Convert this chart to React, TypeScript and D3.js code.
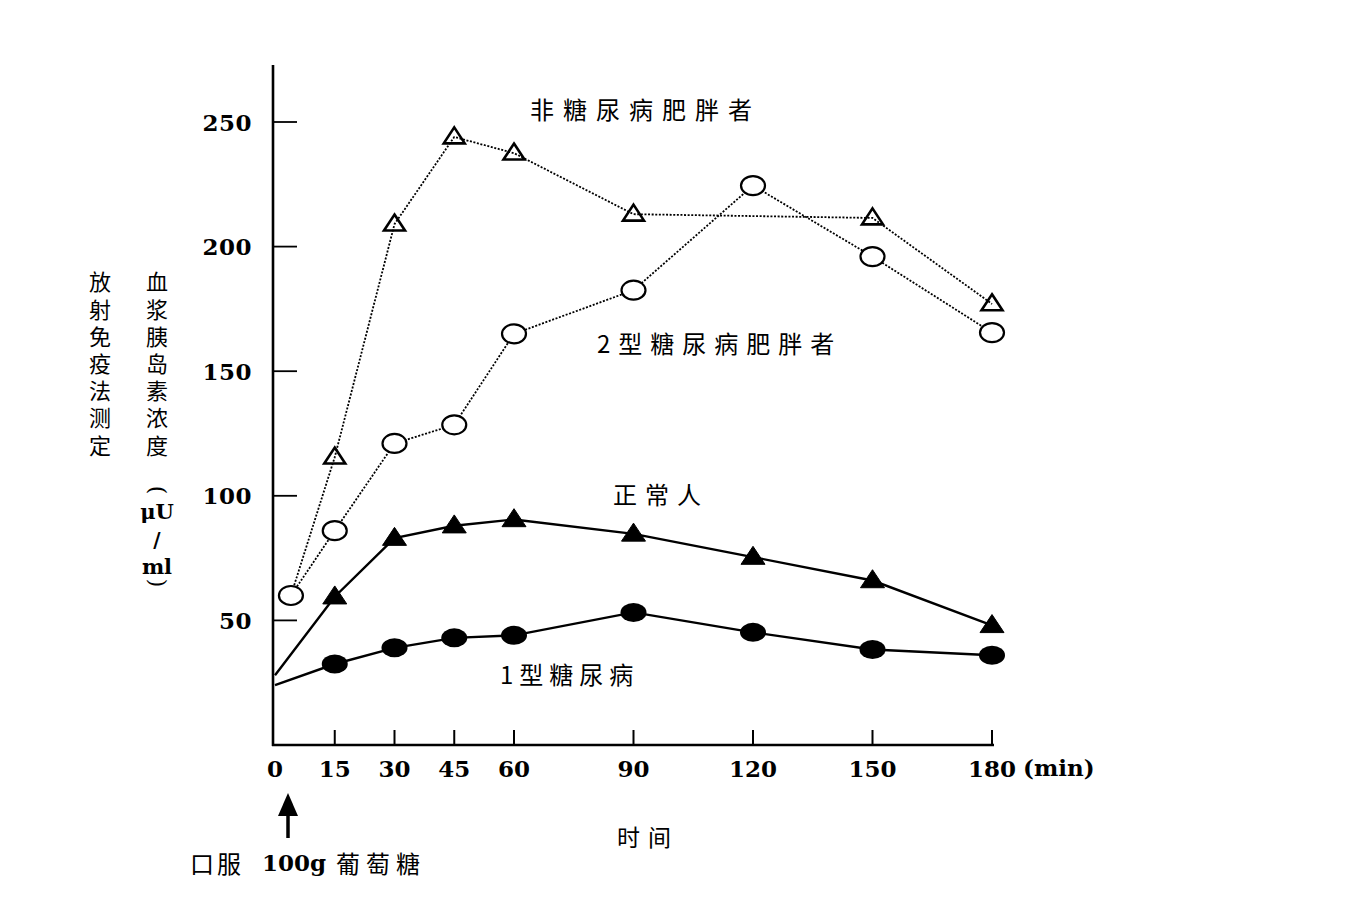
import React from "react";
import * as d3 from "d3";

const times = [0, 15, 30, 45, 60, 90, 120, 150, 180];
const xTickTimes = [15, 30, 45, 60, 90, 120, 150, 180];
const xTickLabels = ["0", "15", "30", "45", "60", "90", "120", "150", "180"];
const yTicks = [50, 100, 150, 200, 250];

// 非糖尿病肥胖者 (open triangles, dotted)
const obeseTimes = [15, 30, 45, 60, 90, 150, 180];
const obeseValues = [115.5, 209, 244, 237.5, 213, 211.5, 177];
// 2型糖尿病肥胖者 (open circles, dotted)
const t2Times = [15, 30, 45, 60, 90, 120, 150, 180];
const t2Values = [86, 121, 128.5, 165, 182.5, 224.5, 196, 165.5];
// shared starting point of the two dotted series
const startTime = 4;
const startValue = 60;
// 正常人 (filled triangles)
const normalValues = [28, 59.5, 83, 88, 90.5, 84.7, 75.4, 66, 48];
// 1型糖尿病 (filled circles)
const t1Values = [24, 32.5, 39, 43, 44, 53.2, 45.2, 38.3, 36];

const yLabelCol1 = "放射免疫法测定";
const yLabelCol2 = "血浆胰岛素浓度";

const SERIF = "'DejaVu Serif', 'Liberation Serif', serif";
const CJK = "'Noto Sans CJK SC', sans-serif";

export default function App() {
  const x = d3.scaleLinear().domain([0, 180]).range([275, 992]);
  const y = d3.scaleLinear().domain([0, 250]).range([745, 122]);
  const line = d3
    .line<[number, number]>()
    .x((d) => x(d[0]))
    .y((d) => y(d[1]));

  const obesePts: [number, number][] = [
    [startTime, startValue],
    ...obeseTimes.map((t, i) => [t, obeseValues[i]] as [number, number]),
  ];
  const t2Pts: [number, number][] = [
    [startTime, startValue],
    ...t2Times.map((t, i) => [t, t2Values[i]] as [number, number]),
  ];
  const normalPts: [number, number][] = times.map((t, i) => [t, normalValues[i]]);
  const t1Pts: [number, number][] = times.map((t, i) => [t, t1Values[i]]);

  const tri = (cx: number, cy: number, w: number, h: number) =>
    `M${cx},${cy - h * 0.6} L${cx + w / 2},${cy + h * 0.4} L${cx - w / 2},${cy + h * 0.4} Z`;

  const axisX0 = 273;
  const axisY0 = y(0);

  return (
    <svg
      width={1361}
      height={897}
      style={{ display: "block", background: "#fff", position: "absolute", left: 0, top: 0 }}
    >
      <rect x={0} y={0} width={1361} height={897} fill="#fff" />
      {/* axes */}
      <line x1={axisX0} y1={65} x2={axisX0} y2={axisY0 + 1} stroke="#000" strokeWidth={2.6} />
      <line x1={axisX0 - 1} y1={axisY0} x2={x(180) + 2} y2={axisY0} stroke="#000" strokeWidth={2.4} />
      {xTickTimes.map((t) => (
        <line key={"xt" + t} x1={x(t)} y1={axisY0} x2={x(t)} y2={axisY0 - 15} stroke="#000" strokeWidth={2} />
      ))}
      {yTicks.map((v) => (
        <line key={"yt" + v} x1={axisX0} y1={y(v)} x2={axisX0 + 24} y2={y(v)} stroke="#000" strokeWidth={1.8} />
      ))}
      {/* tick labels */}
      {times.map((t, i) => (
        <text
          key={"xl" + t}
          x={x(t)}
          y={768}
          textAnchor="middle"
          dominantBaseline="central"
          fontFamily={SERIF}
          fontSize={23}
          fontWeight="bold"
        >
          {xTickLabels[i]}
        </text>
      ))}
      <text x={1023} y={767} dominantBaseline="central" fontFamily={SERIF} fontSize={23} fontWeight="bold">
        (min)
      </text>
      {yTicks.map((v) => (
        <text
          key={"yl" + v}
          x={252}
          y={y(v)}
          textAnchor="end"
          dominantBaseline="central"
          fontFamily={SERIF}
          fontSize={23}
          fontWeight="bold"
          letterSpacing={0.5}
        >
          {v}
        </text>
      ))}

      {/* dotted series */}
      <path d={line(obesePts) || ""} fill="none" stroke="#000" strokeWidth={1.8} strokeDasharray="2 1.6" />
      <path d={line(t2Pts) || ""} fill="none" stroke="#000" strokeWidth={1.8} strokeDasharray="2 1.6" />
      {/* solid series */}
      <path d={line(normalPts) || ""} fill="none" stroke="#000" strokeWidth={2.4} />
      <path d={line(t1Pts) || ""} fill="none" stroke="#000" strokeWidth={2.4} />

      {/* markers */}
      {obesePts.slice(1).map((p, i) => (
        <path key={"ot" + i} d={tri(x(p[0]), y(p[1]), 21, 16)} fill="none" stroke="#000" strokeWidth={2.6} strokeLinejoin="miter" />
      ))}
      {t2Pts.map((p, i) => (
        <ellipse key={"oc" + i} cx={x(p[0])} cy={y(p[1])} rx={12} ry={9.5} fill="#fff" stroke="#000" strokeWidth={2.2} />
      ))}
      {normalPts.slice(1).map((p, i) => (
        <path key={"ft" + i} d={tri(x(p[0]), y(p[1]), 24, 18)} fill="#000" stroke="#000" strokeWidth={1} />
      ))}
      {t1Pts.slice(1).map((p, i) => (
        <ellipse key={"fc" + i} cx={x(p[0])} cy={y(p[1])} rx={13} ry={9.5} fill="#000" />
      ))}

      {/* series labels */}
      <text x={530} y={108} dominantBaseline="central" fontFamily={CJK} fontSize={24} letterSpacing={9}>
        非糖尿病肥胖者
      </text>
      <text x={597} y={342} dominantBaseline="central" fontFamily={CJK} fontSize={24} letterSpacing={8}>
        2型糖尿病肥胖者
      </text>
      <text x={613} y={493} dominantBaseline="central" fontFamily={CJK} fontSize={24} letterSpacing={8}>
        正常人
      </text>
      <text x={500} y={673} dominantBaseline="central" fontFamily={CJK} fontSize={24} letterSpacing={6}>
        1型糖尿病
      </text>

      {/* x axis title */}
      <text x={617} y={836} dominantBaseline="central" fontFamily={CJK} fontSize={23} letterSpacing={8}>
        时间
      </text>
      {/* annotation */}
      <line x1={288} y1={838} x2={288} y2={812} stroke="#000" strokeWidth={3.5} />
      <path d="M278,816 L298,816 L288,793 Z" fill="#000" />
      <text x={190} y={862} dominantBaseline="central" fontFamily={CJK} fontSize={24} letterSpacing={3}>
        口服
      </text>
      <text x={262} y={862} dominantBaseline="central" fontFamily={SERIF} fontSize={23} fontWeight="bold">
        100g
      </text>
      <text x={336} y={862} dominantBaseline="central" fontFamily={CJK} fontSize={24} letterSpacing={6}>
        葡萄糖
      </text>

      {/* y axis title (vertical columns) */}
      <text
        x={100}
        y={271}
        fontFamily={CJK}
        fontSize={22}
        letterSpacing={5.2}
        style={{ writingMode: "vertical-rl", textOrientation: "upright" }}
      >
        {yLabelCol1}
      </text>
      <text
        x={157}
        y={271}
        fontFamily={CJK}
        fontSize={22}
        letterSpacing={5.2}
        style={{ writingMode: "vertical-rl", textOrientation: "upright" }}
      >
        {yLabelCol2}
      </text>
      <text x={157} y={490} textAnchor="middle" dominantBaseline="central" fontFamily={SERIF} fontSize={22} transform="rotate(90 157 490)">
        (
      </text>
      <text x={157} y={511} textAnchor="middle" dominantBaseline="central" fontFamily={SERIF} fontSize={21} fontWeight="bold">
        μU
      </text>
      <text x={157} y={540} textAnchor="middle" dominantBaseline="central" fontFamily={SERIF} fontSize={20} fontWeight="bold">
        /
      </text>
      <text x={157} y={566} textAnchor="middle" dominantBaseline="central" fontFamily={SERIF} fontSize={21} fontWeight="bold">
        ml
      </text>
      <text x={157} y={583} textAnchor="middle" dominantBaseline="central" fontFamily={SERIF} fontSize={22} transform="rotate(90 157 583)">
        )
      </text>
    </svg>
  );
}
